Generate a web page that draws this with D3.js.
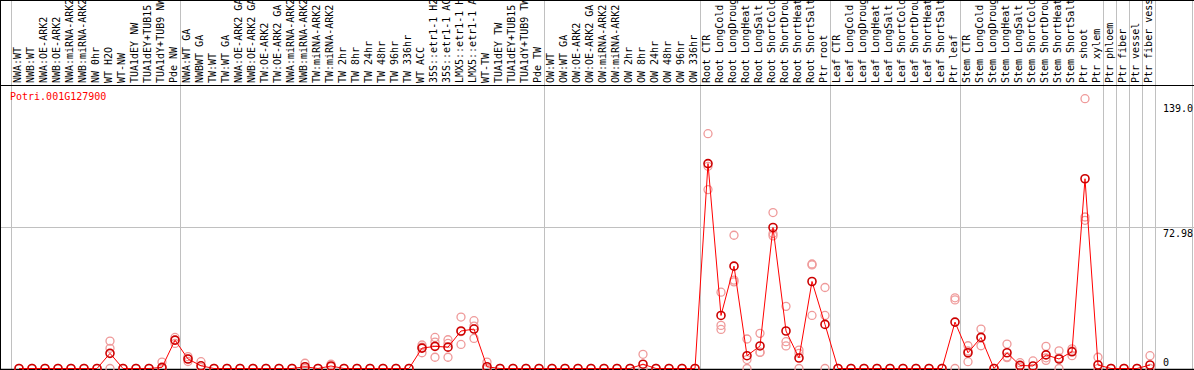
<!DOCTYPE html>
<html><head><meta charset="utf-8">
<script src="https://cdn.jsdelivr.net/npm/d3@7"></script>
<style>
html,body{margin:0;padding:0;background:#fff;}
svg{display:block;}
text{font-family:"DejaVu Sans Mono",monospace;font-size:10px;}
</style></head>
<body>
<script>
const geneId = "Potri.001G127900";
const labels = [
"NWA:WT","NWB:WT","NWA:OE-ARK2","NWB:OE-ARK2","NWA:miRNA-ARK2","NWB:miRNA-ARK2","NW 0hr","WT H2O","WT-NW","TUA1dEY NW","TUA1dEY+TUB15 ","TUA1dY+TUB9 NW","Pde NW",
"NWA:WT GA","NWBWT GA","TW:WT","TW:WT GA","NWA:OE-ARK2 GA","NWB:OE-ARK2 GA","TW:OE-ARK2","TW:OE-ARK2 GA","NWA:miRNA-ARK2","NWB:miRNA-ARK2","TW:miRNA-ARK2","TW:miRNA-ARK2",
"TW 2hr","TW 8hr","TW 24hr","TW 48hr","TW 96hr","TW 336hr","WT ACC","35S::etr1-1 H2","35S::etr1-1 AC","LMX5::etr1-1 H","LMX5::etr1-1 A","WT-TW","TUA1dEY TW","TUA1dEY+TUB15 ","TUA1dY+TUB9 TW","Pde TW",
"OW:WT","OW:WT GA","OW:OE-ARK2","OW:OE-ARK2 GA","OW:miRNA-ARK2","OW:miRNA-ARK2","OW 2hr","OW 8hr","OW 24hr","OW 48hr","OW 96hr","OW 336hr",
"Root CTR","Root LongCold","Root LongDroug","Root LongHeat","Root LongSalt","Root ShortCold","Root ShortDrou","Root ShortHeat","Root ShortSalt","Ptr root",
"Leaf CTR","Leaf LongCold","Leaf LongDroug","Leaf LongHeat","Leaf LongSalt","Leaf ShortCold","Leaf ShortDrou","Leaf ShortHeat","Leaf ShortSalt","Ptr leaf",
"Stem CTR","Stem LongCold","Stem LongDroug","Stem LongHeat","Stem LongSalt","Stem ShortCold","Stem ShortDrou","Stem ShortHeat","Stem ShortSalt","Ptr shoot",
"Ptr xylem","Ptr phloem","Ptr fiber","Ptr vessel","Ptr fiber vess"];

const means = [
0,0,0,0,0,0,0,7.8,0,0,0,0.6,14.6,
4.9,1.4,0,0,0,0,0,0,0,0.9,0,1.3,
0,0,0,0,0,0,10.5,11.4,11.0,19.3,20.3,0.9,0,0,0,0,
0,0,0,0,0,0,0,2.2,0,0,0,0,
105.5,27.3,52.7,6.6,11.6,72.6,19.3,5.4,44.8,22.7,
0,0,0,0,0,0,0,0,0,23.9,
8.1,16.0,0,8.1,1.6,1.3,7.0,4.9,8.6,97.7,
1.8,0,0,0,1.8];

const replicates = [
[0],[0],[0],[0],[0],[0],[0],[14.1,10.4,0],[0],[0],[0],[3.3,0],[16.0,12.9,14.6],
[6.1,3.6,5.0],[3.5,0.5],[0],[0],[0],[0],[0],[0],[0],[2.7,0],[0],[2.2,0.8],
[0],[0],[0],[0],[0],[0],[12.1,8.1,11.0],[16.0,5.8,13.6],[14.8,5.8,12.9],[26.5,12.4,19.0],[24.6,15.5,21.8],[3.3,0],[0],[0],[0],[0],
[0],[0],[0],[0],[0],[0],[0],[7.3,0],[0],[0],[0],[0],
[120.9,104.1,92.1],[39.3,22.2,20.1],[68.6,44.6,45.5],[15.2,0,4.6],[18.1,8.3,8.4],[80.3,69.5,68.3],[32.0,13.8,11.6],[9.5,7.8,0],[53.3,27.3,53.8],[41.7,27.3,0],
[0],[0],[0],[0],[0],[0],[0],[0],[0],[36.4,35.3,0],
[11.7,3.5,9.0],[20.3,11.7,16.0],[0],[12.6,5.6,6.0],[3.0,0.5],[3.9,0],[11.4,4.2,5.5],[9.1,0,5.5],[10.1,6.6,9.0],[138.9,78.0,76.3],
[5.8,0],[0],[0],[0],[6.6,0]];

const groupEnds = [-1,12,40,52,62,72,83,84,85,86,87];
const yTicks = [139.0, 72.98, 0];
const yTickText = ["139.0","72.98","0"];
const yMax = 145.96;

const W = 1194, H = 370;
const svg = d3.select("body").append("svg").attr("width", W).attr("height", H);

const x = d3.scaleLinear().domain([0, labels.length-1]).range([19, 19 + 13*(labels.length-1)]);
const y = d3.scaleLinear().domain([0, yMax]).range([368.5, 85]);

// gridlines (vertical group separators)
svg.append("g").selectAll("line").data(groupEnds).join("line")
  .attr("x1", d => Math.round(x(d)+5)+0.5).attr("x2", d => Math.round(x(d)+5)+0.5)
  .attr("y1", 0).attr("y2", 369)
  .attr("stroke", "#c0c0c0").attr("stroke-width", 1);
// right border
svg.append("line").attr("x1",1192.5).attr("x2",1192.5).attr("y1",0).attr("y2",369).attr("stroke","#c0c0c0");

// horizontal gridline at 72.98
svg.append("line").attr("x1", 1).attr("x2", W).attr("y1", Math.round(y(72.98))+0.5).attr("y2", Math.round(y(72.98))+0.5)
  .attr("stroke", "#c0c0c0");

// column labels
svg.append("g").selectAll("text").data(labels).join("text")
  .attr("transform", (d,i) => `translate(${x(i)+2},83) rotate(-90)`)
  .attr("fill", "#000")
  .attr("xml:space","preserve")
  .text(d => d);

// frame lines
svg.append("line").attr("x1",0).attr("x2",W).attr("y1",0.5).attr("y2",0.5).attr("stroke","#000");
svg.append("line").attr("x1",0).attr("x2",W).attr("y1",85.5).attr("y2",85.5).attr("stroke","#000");
svg.append("line").attr("x1",0.5).attr("x2",0.5).attr("y1",0).attr("y2",H).attr("stroke","#000");
svg.append("line").attr("x1",0).attr("x2",W).attr("y1",369.5).attr("y2",369.5).attr("stroke","#000").attr("stroke-width",1.5);

// gene id
svg.append("text").attr("x", 10).attr("y", 100).attr("fill", "#ff0000").text(geneId);

// y tick labels
const tickDy = [13, 10, -3];
svg.append("g").selectAll("text").data(yTicks).join("text")
  .attr("x", 1163).attr("y", (d,i) => y(d) + tickDy[i])
  .attr("fill", "#000").text((d,i) => yTickText[i]);

// replicate points
const repPts = [];
replicates.forEach((arr,i) => arr.forEach(v => repPts.push({i, v})));
svg.append("g").selectAll("circle").data(repPts).join("circle")
  .attr("cx", d => x(d.i)).attr("cy", d => y(d.v)).attr("r", 4)
  .attr("fill", "none").attr("stroke", "#ef9a9a").attr("stroke-width", 1.3);

// mean line
svg.append("path").datum(means)
  .attr("d", d3.line().x((d,i) => x(i)).y(d => y(d)))
  .attr("fill", "none").attr("stroke", "#ff0000").attr("stroke-width", 1);

// mean points
svg.append("g").selectAll("circle").data(means).join("circle")
  .attr("cx", (d,i) => x(i)).attr("cy", d => y(d)).attr("r", 4)
  .attr("fill", "none").attr("stroke", "#cc0000").attr("stroke-width", 1.6);
</script>
</body></html>
